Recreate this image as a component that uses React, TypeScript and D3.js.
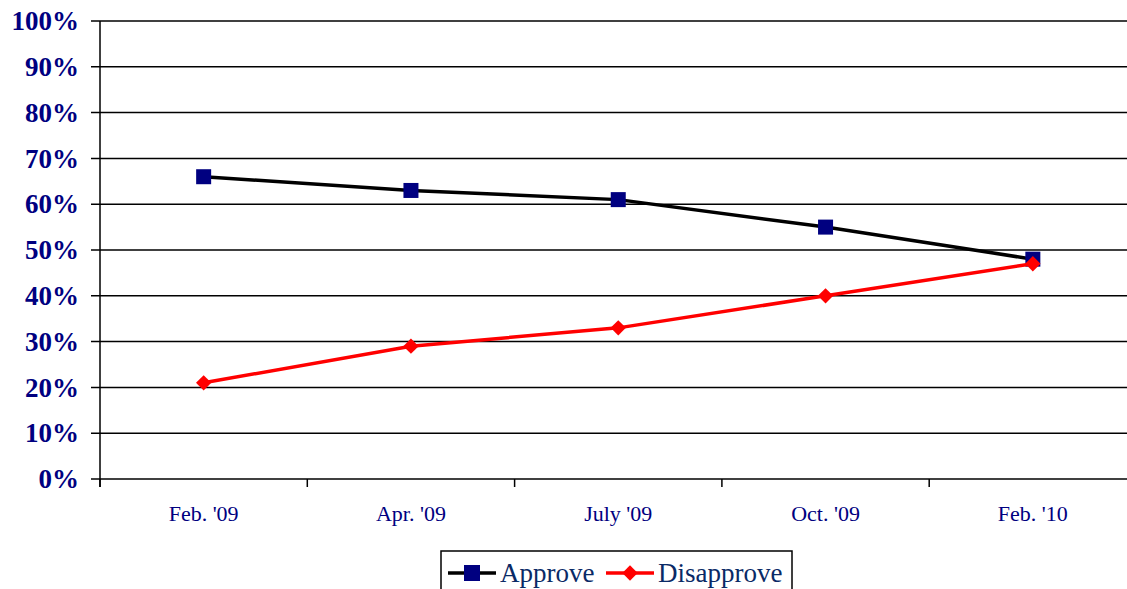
import { useEffect, useRef } from 'react';
import * as d3 from 'd3';

const categories = ["Feb. '09", "Apr. '09", "July '09", "Oct. '09", "Feb. '10"];
const approve = [66, 63, 61, 55, 48];
const disapprove = [21, 29, 33, 40, 47];
const yTicks = [0, 10, 20, 30, 40, 50, 60, 70, 80, 90, 100];

const App = () => {
    const ref = useRef(null);

    useEffect(() => {
        const svg = d3.select(ref.current);
        svg.selectAll('*').remove();

        const serif = '"Liberation Serif", "Times New Roman", serif';
        const left = 100, top = 21, bottom = 479;
        const step = 207.3;
        const right = left + step * categories.length;

        const x = d3.scaleBand().domain(categories).range([left, right]);
        const y = d3.scaleLinear().domain([0, 100]).range([bottom, top]);

        // gridlines
        svg.append('g')
            .selectAll('line')
            .data(yTicks)
            .join('line')
            .attr('x1', left - 9)
            .attr('x2', 1127)
            .attr('y1', d => y(d))
            .attr('y2', d => y(d))
            .attr('stroke', '#000')
            .attr('stroke-width', 1.5);

        // y labels
        svg.append('g')
            .selectAll('text')
            .data(yTicks)
            .join('text')
            .attr('x', 79)
            .attr('y', d => y(d))
            .attr('dy', '0.34em')
            .attr('text-anchor', 'end')
            .attr('font-family', serif)
            .attr('font-weight', 'bold')
            .attr('font-size', 27)
            .attr('fill', '#000080')
            .text(d => d + '%');

        // axes
        svg.append('line')
            .attr('x1', left).attr('x2', left)
            .attr('y1', top).attr('y2', bottom + 8)
            .attr('stroke', '#000').attr('stroke-width', 1.5);

        const xTickPos = d3.range(categories.length + 1).map(i => left + i * step);
        svg.append('g')
            .selectAll('line')
            .data(xTickPos)
            .join('line')
            .attr('x1', d => d).attr('x2', d => d)
            .attr('y1', bottom).attr('y2', bottom + 8)
            .attr('stroke', '#000').attr('stroke-width', 1.5);

        svg.append('g')
            .selectAll('text')
            .data(categories)
            .join('text')
            .attr('x', d => x(d)! + x.bandwidth() / 2)
            .attr('y', 521)
            .attr('text-anchor', 'middle')
            .attr('font-family', serif)
            .attr('font-size', 22)
            .attr('fill', '#000080')
            .text(d => d);

        const cx = (i) => x(categories[i])! + x.bandwidth() / 2;
        const line = d3.line<number>().x((d, i) => cx(i)).y(d => y(d));

        svg.append('path')
            .datum(approve)
            .attr('d', line)
            .attr('fill', 'none')
            .attr('stroke', '#000')
            .attr('stroke-width', 3.5);

        svg.append('g')
            .selectAll('rect')
            .data(approve)
            .join('rect')
            .attr('x', (d, i) => cx(i) - 7.5)
            .attr('y', d => y(d) - 7.5)
            .attr('width', 15)
            .attr('height', 15)
            .attr('fill', '#000080');

        svg.append('path')
            .datum(disapprove)
            .attr('d', line)
            .attr('fill', 'none')
            .attr('stroke', '#ff0000')
            .attr('stroke-width', 3.5);

        const diamond = d3.symbol().type(d3.symbolDiamond2).size(150);
        svg.append('g')
            .selectAll('path')
            .data(disapprove)
            .join('path')
            .attr('transform', (d, i) => `translate(${cx(i)},${y(d)})`)
            .attr('d', diamond)
            .attr('fill', '#ff0000');

        // legend
        const lg = svg.append('g');
        lg.append('rect')
            .attr('x', 441).attr('y', 551)
            .attr('width', 351).attr('height', 50)
            .attr('fill', '#fff')
            .attr('stroke', '#000').attr('stroke-width', 1.5);
        lg.append('line')
            .attr('x1', 448).attr('x2', 496).attr('y1', 573).attr('y2', 573)
            .attr('stroke', '#000').attr('stroke-width', 3.5);
        lg.append('rect')
            .attr('x', 464).attr('y', 565).attr('width', 16).attr('height', 16)
            .attr('fill', '#000080');
        lg.append('text')
            .attr('x', 500).attr('y', 582)
            .attr('font-family', serif)
            .attr('font-size', 27)
            .attr('fill', '#0a2a66')
            .text('Approve');
        lg.append('line')
            .attr('x1', 606).attr('x2', 654).attr('y1', 573).attr('y2', 573)
            .attr('stroke', '#ff0000').attr('stroke-width', 3.5);
        lg.append('path')
            .attr('transform', 'translate(630,573)')
            .attr('d', diamond)
            .attr('fill', '#ff0000');
        lg.append('text')
            .attr('x', 658).attr('y', 582)
            .attr('font-family', serif)
            .attr('font-size', 27)
            .attr('fill', '#0a2a66')
            .text('Disapprove');
    }, []);

    return (
        <svg ref={ref} width={1127} height={589} style={{ position: 'absolute', left: 0, top: 0, background: '#fff' }} />
    );
};

export default App;
